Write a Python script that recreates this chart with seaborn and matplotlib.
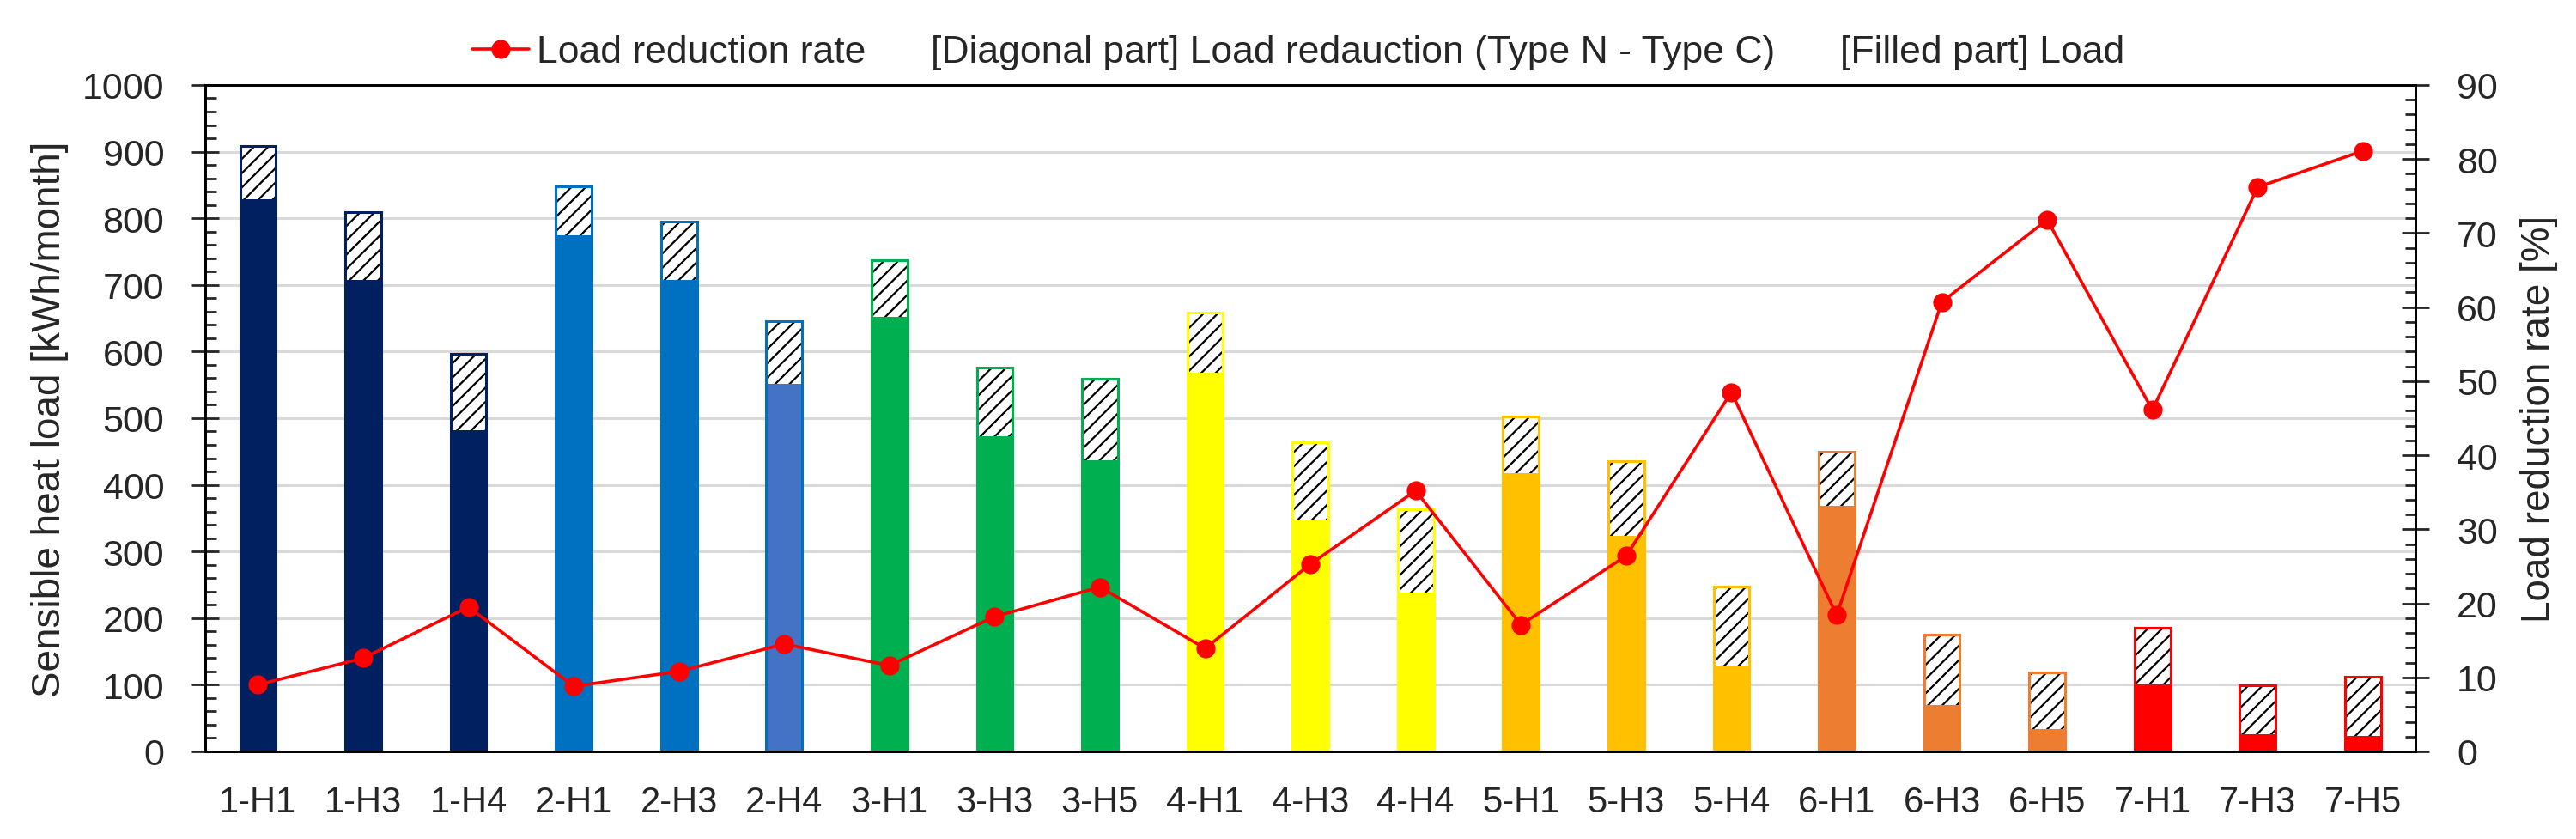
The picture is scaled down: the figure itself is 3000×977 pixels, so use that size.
import matplotlib
matplotlib.use("Agg")
import numpy as np
import pandas as pd
import matplotlib.pyplot as plt
from matplotlib.lines import Line2D
from matplotlib.patches import Patch
from matplotlib.ticker import MultipleLocator
import seaborn as sns

# cases and values
cases = ["1-H1", "1-H3", "1-H4", "2-H1", "2-H3", "2-H4", "3-H1", "3-H3", "3-H5",
         "4-H1", "4-H3", "4-H4", "5-H1", "5-H3", "5-H4", "6-H1", "6-H3", "6-H5",
         "7-H1", "7-H3", "7-H5"]
# bar top = Type N load, filled part = load after reduction
total_load = [909, 809, 597, 848, 795, 645, 737, 576, 559, 659, 464, 364,
              502, 436, 248, 450, 175, 118, 185, 99, 112]
filled_load = [828, 707, 482, 775, 708, 552, 652, 473, 437, 568, 348, 238,
               418, 323, 129, 369, 69, 34, 100, 26, 23]
reduction_rate = [9.0, 12.6, 19.5, 8.8, 10.8, 14.5, 11.6, 18.2, 22.2, 13.9, 25.3, 35.2,
                  17.1, 26.4, 48.5, 18.4, 60.7, 71.8, 46.1, 76.2, 81.1]

fill_colors = ["#002060"] * 3 + ["#0070C0", "#0070C0", "#4472C4"] + ["#00B050"] * 3 + \
              ["#FFFF00"] * 3 + ["#FFC000"] * 3 + ["#ED7D31"] * 3 + ["#FF0000"] * 3
edge_colors = ["#002060"] * 3 + ["#0070C0"] * 3 + ["#00B050"] * 3 + \
              ["#FFFF00"] * 3 + ["#FFC000"] * 3 + ["#ED7D31"] * 3 + ["#FF0000"] * 3

sns.set_style("ticks")
plt.rcParams["font.family"] = ["Liberation Sans", "DejaVu Sans"]
plt.rcParams["hatch.linewidth"] = 1.6

df = pd.DataFrame({"case": cases, "total": total_load, "load": filled_load,
                   "rate": reduction_rate})
fill_pal = dict(zip(cases, fill_colors))
edge_pal = dict(zip(cases, edge_colors))

fig = plt.figure(figsize=(30, 9.78), dpi=100)
ax = fig.add_axes([0.0797, 0.1043, 0.858, 0.7935])

BAR_W = 0.34

# hatched part (whole Type N bar, drawn white with black diagonal lines)
n0 = len(ax.patches)
sns.barplot(data=df, x="case", y="total", hue="case", palette=fill_pal, legend=False,
            width=BAR_W, saturation=1, errorbar=None, ax=ax)
for p in ax.patches[n0:]:
    p.set_facecolor("white")
    p.set_edgecolor("black")
    p.set_linewidth(0)
    p.set_hatch("//")

# filled part
sns.barplot(data=df, x="case", y="load", hue="case", palette=fill_pal, legend=False,
            width=BAR_W, saturation=1, errorbar=None, linewidth=0, ax=ax)

# coloured outline round the whole bar
sns.barplot(data=df, x="case", y="total", hue="case", palette=edge_pal, legend=False,
            width=BAR_W, saturation=1, errorbar=None, fill=False, linewidth=2.2, ax=ax)

ax.set_xlim(-0.5, len(cases) - 0.5)
ax.set_ylim(0, 1000)
ax.yaxis.set_major_locator(MultipleLocator(100))
ax.yaxis.set_minor_locator(MultipleLocator(20))
ax.grid(axis="y", which="major", color="#D9D9D9", linewidth=2.2)
ax.set_axisbelow(True)
ax.tick_params(axis="y", which="major", direction="inout", length=23, width=2,
               labelsize=31, pad=23)
ax.tick_params(axis="y", which="minor", direction="in", length=9, width=2)
ax.tick_params(axis="x", length=0, pad=28, labelsize=30)
ax.set_xlabel("")
ax.set_ylabel("Sensible heat load [kWh/month]", fontsize=33)
ax.yaxis.set_label_coords(-0.062, 0.5)
for s in ax.spines.values():
    s.set_visible(True)
    s.set_color("black")
    s.set_linewidth(2)

# load reduction rate on the right axis
ax2 = ax.twinx()
sns.lineplot(x=np.arange(len(cases)), y=df["rate"], ax=ax2, color="#FF0000",
             linewidth=2.6, marker="o", markersize=16, markeredgewidth=0)
ax2.set_xlim(-0.5, len(cases) - 0.5)
ax2.set_ylim(0, 90)
ax2.yaxis.set_major_locator(MultipleLocator(10))
ax2.yaxis.set_minor_locator(MultipleLocator(2))
ax2.tick_params(axis="y", which="major", direction="inout", length=23, width=2,
                labelsize=31, pad=23)
ax2.tick_params(axis="y", which="minor", direction="in", length=9, width=2)
ax2.set_ylabel("Load reduction rate [%]", fontsize=33)
ax2.yaxis.set_label_coords(1.0475, 0.5)
for s in ax2.spines.values():
    s.set_color("black")
    s.set_linewidth(2)

handles = [Line2D([], [], color="#FF0000", linewidth=2.6, marker="o", markersize=16,
                  markeredgewidth=0),
           Patch(visible=False), Patch(visible=False)]
labels = ["Load reduction rate", "[Diagonal part] Load redauction (Type N - Type C)",
          "[Filled part] Load"]
fig.legend(handles, labels, loc="center", bbox_to_anchor=(0.504, 0.937), ncol=3,
           frameon=False, fontsize=32, handlelength=1.5, handletextpad=0.2,
           columnspacing=0.0)

fig.savefig("out.png", dpi=100)
